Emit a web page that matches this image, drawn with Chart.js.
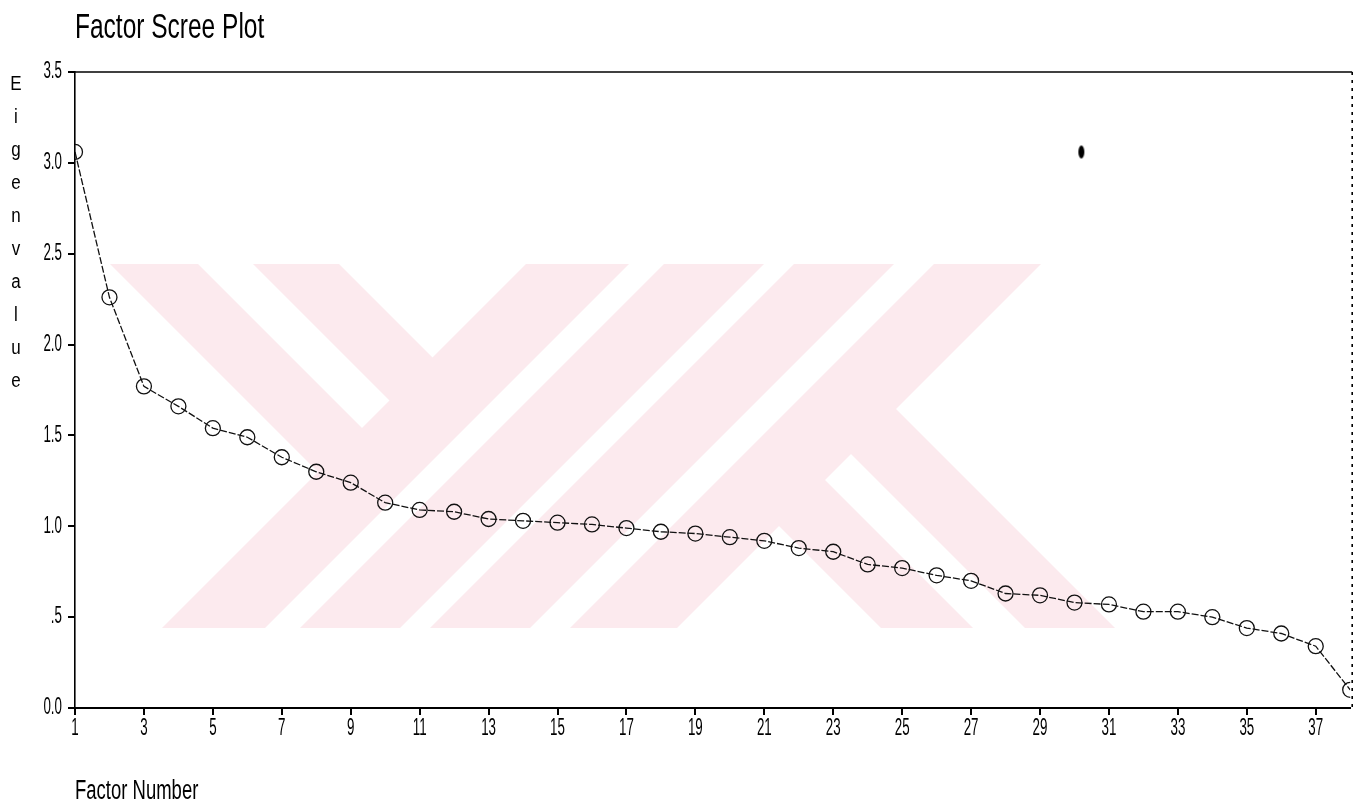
<!DOCTYPE html>
<html><head><meta charset="utf-8">
<script src="https://cdn.jsdelivr.net/npm/chart.js@4.4.1/dist/chart.umd.min.js"></script>
<style>html,body{margin:0;padding:0;background:#fff;overflow:hidden}#wrap{width:1359px;height:805px}</style>
</head><body><div id="wrap"><canvas id="c" width="1359" height="805"></canvas></div>
<script>
const chartTitle = 'Factor Scree Plot';
const yAxisTitle = 'Eigenvalue';
const xAxisTitle = 'Factor Number';
const factors = [1,2,3,4,5,6,7,8,9,10,11,12,13,14,15,16,17,18,19,20,21,22,23,24,25,26,27,28,29,30,31,32,33,34,35,36,37,38];
const eigenvalues = [3.06,2.26,1.77,1.66,1.54,1.49,1.38,1.30,1.24,1.13,1.09,1.08,1.04,1.03,1.02,1.01,0.99,0.97,0.96,0.94,0.92,0.88,0.86,0.79,0.77,0.73,0.70,0.63,0.62,0.58,0.57,0.53,0.53,0.50,0.44,0.41,0.34,0.10];
const xTickValues = [1,3,5,7,9,11,13,15,17,19,21,23,25,27,29,31,33,35,37];
const yTickValues = [0,0.5,1,1.5,2,2.5,3,3.5];
const yTickLabels = ['0.0','.5','1.0','1.5','2.0','2.5','3.0','3.5'];
const strayMarkX = [30.2];
const strayMarkY = [3.06];

const FONT = '"Liberation Sans Narrow","Liberation Sans",Arial,sans-serif';

// background watermark (pink diagonal bands), pixel geometry
const WM = {top:264, bottom:628, left:110, right:1115, color:'rgb(252,234,238)'};
const wmSlash = [[790,893],[928,1028],[1058,1158],[1198,1305]];
const wmBackLeft = [[-154,-66],[-11,75]];
const wmBackRight = [[253,345],[397,487]];

function poly(ctx, pts){ctx.beginPath();ctx.moveTo(pts[0][0],pts[0][1]);for(let i=1;i<pts.length;i++)ctx.lineTo(pts[i][0],pts[i][1]);ctx.closePath();ctx.fill();}

const watermark = {
  id:'watermark',
  beforeDraw(chart){
    const ctx = chart.ctx;
    ctx.save();
    ctx.fillStyle='#fff';ctx.fillRect(0,0,chart.width,chart.height);
    ctx.beginPath();ctx.rect(WM.left,WM.top,WM.right-WM.left,WM.bottom-WM.top);ctx.clip();
    ctx.fillStyle=WM.color;
    const y0=WM.top-20, y1=WM.bottom+20;
    wmSlash.forEach(([a,b])=>poly(ctx,[[a-y0,y0],[b-y0,y0],[b-y1,y1],[a-y1,y1]]));
    const L=800;
    wmBackLeft.forEach(([c,d])=>poly(ctx,[[c+y0,y0],[d+y0,y0],[(L+d)/2,(L-d)/2],[(L+c)/2,(L-c)/2]]));
    const R=1295;
    wmBackRight.forEach(([c,d])=>poly(ctx,[[(R+c)/2,(R-c)/2],[(R+d)/2,(R-d)/2],[d+y1,y1],[c+y1,y1]]));
    ctx.restore();
  }
};

function drawText(ctx,text,x,y,size,sx,align){
  ctx.save();ctx.translate(x,y);ctx.scale(sx,1);
  ctx.font=size+'px '+FONT;ctx.fillStyle='#000';ctx.textAlign=align;ctx.textBaseline='middle';
  ctx.fillText(text,0,0);ctx.restore();
}

// stray ink blot as an elliptical point style
const blot = document.createElement('canvas');
blot.width=8;blot.height=15;
(function(){const b=blot.getContext('2d');b.fillStyle='#000';b.beginPath();b.ellipse(4,7.5,3,6.5,0,0,Math.PI*2);b.fill();})();

const decor = {
  id:'decor',
  afterDraw(chart){
    const ctx=chart.ctx, ca=chart.chartArea;
    const xs=chart.scales.x, ys=chart.scales.y;
    ctx.save();ctx.strokeStyle='#000';ctx.lineWidth=1.6;
    ctx.beginPath();ctx.moveTo(ca.left,ca.top);ctx.lineTo(ca.right+2,ca.top);ctx.stroke();
    ctx.setLineDash([3,5]);ctx.beginPath();ctx.moveTo(ca.right+2,ca.top);ctx.lineTo(ca.right+2,ca.bottom);ctx.stroke();
    ctx.restore();
    // condensed tick labels placed by the library's scales
    xs.ticks.forEach(t=>drawText(ctx,String(t.value),xs.getPixelForValue(t.value),729,23,0.58,'center'));
    ys.ticks.forEach((t,i)=>drawText(ctx,yTickLabels[i],62,ys.getPixelForValue(t.value),23,0.58,'right'));
    drawText(ctx,chartTitle,ca.left,28,35,0.70,'left');
    drawText(ctx,xAxisTitle,ca.left,792,27,0.685,'left');
    yAxisTitle.split('').forEach((ch,i)=>drawText(ctx,ch,16,84+i*33.1,20,0.85,'center'));
  }
};

new Chart(document.getElementById('c'),{
  type:'line',
  data:{
    datasets:[{
      label:'Eigenvalue',
      data:factors.map((f,i)=>({x:f,y:eigenvalues[i]})),
      borderColor:'#111',borderWidth:1.3,borderDash:[7,2],
      pointStyle:'circle',pointRadius:7.5,pointBorderColor:'#111',pointBorderWidth:1.3,
      pointBackgroundColor:'rgba(0,0,0,0)',tension:0,fill:false
    },{
      label:'mark',
      data:strayMarkX.map((x,i)=>({x:x,y:strayMarkY[i]})),
      showLine:false,pointStyle:blot,pointRadius:6
    }]
  },
  options:{
    responsive:false,animation:false,devicePixelRatio:1,
    layout:{padding:{top:72,right:7,left:0,bottom:0}},
    plugins:{legend:{display:false},tooltip:{enabled:false},title:{display:false}},
    scales:{
      x:{type:'linear',min:1,max:38,
        afterBuildTicks:s=>{s.ticks=xTickValues.map(v=>({value:v}));},
        afterFit:s=>{s.height=97;},
        ticks:{color:'rgba(0,0,0,0)',font:{family:FONT,size:20},padding:4,maxRotation:0,autoSkip:false,callback:v=>String(v)},
        grid:{display:true,drawOnChartArea:false,drawTicks:true,tickLength:7,color:'#000',lineWidth:2},
        border:{display:true,color:'#000',width:2}},
      y:{type:'linear',min:0,max:3.5,
        afterBuildTicks:s=>{s.ticks=yTickValues.map(v=>({value:v}));},
        afterFit:s=>{s.width=75;},
        ticks:{color:'rgba(0,0,0,0)',font:{family:FONT,size:20},padding:5,callback:(v,i)=>yTickLabels[i]},
        grid:{display:true,drawOnChartArea:false,drawTicks:true,tickLength:7,color:'#000',lineWidth:2},
        border:{display:true,color:'#000',width:1.6,dash:[10,3,2,3]}}
    }
  },
  plugins:[watermark,decor]
});
</script></body></html>
